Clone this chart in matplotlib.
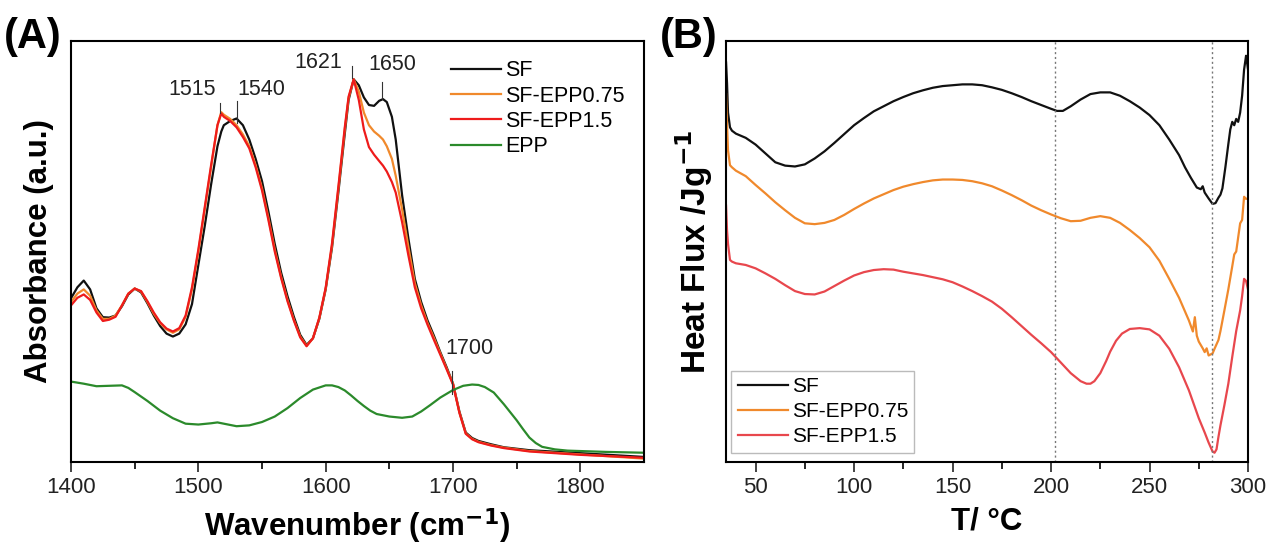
import numpy as np
import matplotlib.pyplot as plt

plt.rcParams["font.family"] = ["Liberation Sans", "DejaVu Sans"]

# ---- (A) FTIR ----
wn = [1400, 1405, 1410, 1415, 1420, 1425, 1430, 1435, 1440, 1445, 1450, 1455,
      1460, 1465, 1470, 1475, 1480, 1485, 1490, 1495, 1500, 1505, 1510, 1515,
      1518, 1520, 1525, 1530, 1535, 1540, 1545, 1550, 1555, 1560, 1565, 1570,
      1575, 1580, 1585, 1590, 1595, 1600, 1605, 1610, 1615, 1618, 1622, 1626,
      1630, 1634, 1638, 1642, 1645, 1648, 1652, 1655, 1660, 1665, 1670, 1675,
      1680, 1685, 1690, 1695, 1700, 1705, 1710, 1715, 1720, 1730, 1740, 1760,
      1800, 1850]
sf_a = [0.389, 0.415, 0.431, 0.410, 0.365, 0.344, 0.343, 0.348, 0.370, 0.398,
        0.412, 0.403, 0.377, 0.348, 0.323, 0.305, 0.298, 0.305, 0.327, 0.375,
        0.468, 0.560, 0.659, 0.750, 0.785, 0.800, 0.810, 0.816, 0.800, 0.766,
        0.720, 0.667, 0.595, 0.518, 0.450, 0.394, 0.345, 0.302, 0.278, 0.294,
        0.340, 0.410, 0.510, 0.642, 0.780, 0.860, 0.909, 0.895, 0.866, 0.848,
        0.846, 0.858, 0.862, 0.855, 0.820, 0.766, 0.634, 0.530, 0.435, 0.380,
        0.336, 0.300, 0.261, 0.225, 0.186, 0.120, 0.070, 0.057, 0.050, 0.042,
        0.035, 0.028, 0.021, 0.012]
epp075_a = [0.380, 0.400, 0.410, 0.395, 0.360, 0.340, 0.340, 0.348, 0.372, 0.400,
            0.412, 0.405, 0.380, 0.352, 0.330, 0.315, 0.307, 0.315, 0.345, 0.410,
            0.500, 0.600, 0.700, 0.800, 0.831, 0.825, 0.815, 0.800, 0.778, 0.750,
            0.705, 0.650, 0.580, 0.505, 0.440, 0.385, 0.338, 0.298, 0.276, 0.294,
            0.342, 0.412, 0.515, 0.650, 0.790, 0.865, 0.909, 0.880, 0.830, 0.800,
            0.785, 0.775, 0.766, 0.750, 0.720, 0.680, 0.600, 0.510, 0.425, 0.372,
            0.330, 0.295, 0.258, 0.222, 0.186, 0.118, 0.068, 0.055, 0.048, 0.040,
            0.034, 0.026, 0.018, 0.008]
epp15_a = [0.372, 0.390, 0.398, 0.385, 0.355, 0.335, 0.338, 0.345, 0.372, 0.400,
           0.412, 0.406, 0.382, 0.355, 0.332, 0.317, 0.310, 0.318, 0.348, 0.415,
           0.505, 0.605, 0.705, 0.800, 0.828, 0.820, 0.810, 0.795, 0.772, 0.745,
           0.700, 0.645, 0.575, 0.500, 0.437, 0.382, 0.336, 0.296, 0.275, 0.294,
           0.343, 0.414, 0.520, 0.655, 0.795, 0.868, 0.909, 0.860, 0.790, 0.748,
           0.730, 0.715, 0.704, 0.690, 0.665, 0.640, 0.570, 0.490, 0.415, 0.365,
           0.326, 0.290, 0.255, 0.220, 0.184, 0.117, 0.067, 0.054, 0.047, 0.039,
           0.033, 0.025, 0.017, 0.010]
wn_epp = [1400, 1410, 1420, 1430, 1440, 1445, 1450, 1460, 1470, 1480, 1490, 1500,
          1510, 1515, 1520, 1530, 1540, 1550, 1560, 1570, 1580, 1590, 1600, 1605,
          1610, 1615, 1620, 1625, 1630, 1635, 1640, 1650, 1660, 1668, 1675, 1682,
          1690, 1700, 1708, 1715, 1720, 1725, 1732, 1740, 1745, 1750, 1755, 1760,
          1765, 1770, 1780, 1790, 1820, 1850]
epp_a = [0.191, 0.186, 0.180, 0.181, 0.182, 0.176, 0.166, 0.145, 0.122, 0.104,
         0.091, 0.089, 0.092, 0.094, 0.091, 0.085, 0.087, 0.095, 0.108, 0.128,
         0.152, 0.172, 0.182, 0.182, 0.178, 0.170, 0.158, 0.145, 0.133, 0.122,
         0.114, 0.108, 0.105, 0.108, 0.120, 0.135, 0.153, 0.171, 0.181, 0.184,
         0.183, 0.178, 0.165, 0.137, 0.118, 0.099, 0.078, 0.058, 0.045, 0.036,
         0.030, 0.027, 0.024, 0.022]

# peak labels
peak_labels = ["1515", "1540", "1621", "1650", "1700"]
peak_line_x = [1517, 1530.4, 1621, 1644, 1699]
peak_line_y0 = [0.829, 0.805, 0.911, 0.862, 0.162]
peak_line_y1 = [0.853, 0.857, 0.940, 0.902, 0.215]
peak_text_x = [1495.4, 1549.2, 1594, 1652, 1712.6]
peak_text_y = [0.884, 0.884, 0.949, 0.944, 0.269]

# ---- (B) DSC ----
t_sf = [35, 35.5, 36, 37, 38, 40, 45, 50, 55, 60, 65, 70, 75, 80, 85, 90, 95,
        100, 105, 110, 115, 120, 125, 130, 135, 140, 145, 150, 155, 160, 165,
        170, 175, 180, 185, 190, 195, 200, 203, 206, 210, 215, 220, 225, 230,
        235, 240, 245, 250, 255, 260, 265, 268, 271, 274, 276, 277, 278, 280,
        282, 283.5, 285, 286, 287, 288.5, 290, 291, 292, 293, 294, 295, 296,
        297, 298, 299, 299.5, 300]
sf_b = [0.949, 0.900, 0.830, 0.795, 0.787, 0.780, 0.770, 0.754, 0.733, 0.712,
        0.704, 0.702, 0.707, 0.721, 0.738, 0.758, 0.779, 0.800, 0.817, 0.833,
        0.845, 0.857, 0.867, 0.876, 0.883, 0.889, 0.893, 0.895, 0.897, 0.897,
        0.895, 0.890, 0.884, 0.876, 0.867, 0.857, 0.848, 0.839, 0.834, 0.834,
        0.845, 0.861, 0.874, 0.878, 0.878, 0.870, 0.857, 0.842, 0.824, 0.800,
        0.766, 0.729, 0.700, 0.675, 0.652, 0.648, 0.655, 0.640, 0.626, 0.613,
        0.615, 0.628, 0.635, 0.650, 0.700, 0.755, 0.790, 0.808, 0.800, 0.815,
        0.808, 0.830, 0.870, 0.932, 0.965, 0.950, 0.932]
t_075 = [35, 35.5, 36, 37, 38, 40, 45, 50, 55, 60, 65, 70, 75, 80, 85, 90, 95,
         100, 105, 110, 115, 120, 125, 130, 135, 140, 145, 150, 155, 160, 165,
         170, 175, 180, 185, 190, 195, 200, 205, 210, 215, 220, 225, 230, 235,
         240, 245, 250, 255, 260, 265, 270, 272, 273, 274, 275, 277, 278, 279,
         280, 282, 283, 285, 286, 288, 290, 292, 293, 294, 296, 297, 298, 299, 300]
epp075_b = [0.874, 0.800, 0.740, 0.705, 0.700, 0.692, 0.679, 0.658, 0.638, 0.617,
            0.598, 0.580, 0.567, 0.565, 0.568, 0.575, 0.587, 0.601, 0.614, 0.626,
            0.636, 0.646, 0.654, 0.660, 0.665, 0.669, 0.671, 0.671, 0.670, 0.667,
            0.662, 0.655, 0.645, 0.634, 0.622, 0.609, 0.598, 0.588, 0.579, 0.572,
            0.573, 0.580, 0.584, 0.580, 0.568, 0.551, 0.532, 0.510, 0.478, 0.435,
            0.390, 0.336, 0.310, 0.344, 0.300, 0.286, 0.270, 0.261, 0.270, 0.253,
            0.258, 0.269, 0.290, 0.311, 0.360, 0.410, 0.465, 0.493, 0.500, 0.567,
            0.575, 0.630, 0.625, 0.626]
t_15 = [35, 35.5, 36, 37, 38, 40, 45, 50, 55, 60, 65, 70, 75, 80, 85, 90, 95,
        100, 105, 110, 115, 120, 125, 130, 135, 140, 145, 150, 155, 160, 165,
        170, 175, 180, 185, 190, 195, 200, 205, 210, 215, 218, 220, 222, 225,
        228, 230, 233, 236, 240, 245, 250, 255, 260, 265, 270, 275, 278, 280,
        282, 283, 284, 285, 286, 288, 290, 292, 294, 296, 297, 298, 299, 300]
epp15_b = [0.609, 0.550, 0.518, 0.480, 0.476, 0.472, 0.468, 0.460, 0.448, 0.435,
           0.420, 0.406, 0.399, 0.398, 0.405, 0.418, 0.431, 0.443, 0.451, 0.456,
           0.458, 0.457, 0.452, 0.448, 0.444, 0.439, 0.434, 0.427, 0.417, 0.406,
           0.394, 0.381, 0.364, 0.344, 0.323, 0.302, 0.282, 0.261, 0.236, 0.211,
           0.192, 0.186, 0.186, 0.192, 0.211, 0.240, 0.262, 0.288, 0.305, 0.316,
           0.318, 0.315, 0.300, 0.269, 0.225, 0.170, 0.104, 0.070, 0.046, 0.025,
           0.022, 0.030, 0.060, 0.087, 0.135, 0.186, 0.250, 0.311, 0.360, 0.394,
           0.435, 0.430, 0.410]
guide_t = [202, 281.5]

black = "#111111"
orange = "#f0892c"
red_a = "#ee1b1b"
green = "#2b8a2b"
red_b = "#e8474d"

fig = plt.figure(figsize=(12.66, 5.47), dpi=100)
ax1 = fig.add_axes([0.0561, 0.1554, 0.4526, 0.7696])
ax2 = fig.add_axes([0.5735, 0.1554, 0.4123, 0.7696])

ax1.plot(wn, sf_a, color=black, lw=1.6, label="SF")
ax1.plot(wn, epp075_a, color=orange, lw=1.6, label="SF-EPP0.75")
ax1.plot(wn, epp15_a, color=red_a, lw=1.6, label="SF-EPP1.5")
ax1.plot(wn_epp, epp_a, color=green, lw=1.6, label="EPP")
for lab, lx, y0, y1, tx, ty in zip(peak_labels, peak_line_x, peak_line_y0,
                                   peak_line_y1, peak_text_x, peak_text_y):
    ax1.plot([lx, lx], [y0, y1], color="#333333", lw=0.8)
    ax1.text(tx, ty, lab, fontsize=15.5, ha="center", va="center", color="#222222")
ax1.set_xlim(1400, 1850)
ax1.set_ylim(0, 1)
ax1.set_xticks([1400, 1500, 1600, 1700, 1800])
ax1.set_xticks(np.arange(1450, 1850, 100), minor=True)
ax1.set_yticks([])
ax1.set_xlabel("Wavenumber (cm$^{\\mathbf{-1}}$)", fontsize=22.5, fontweight="bold", labelpad=6)
ax1.set_ylabel("Absorbance (a.u.)", fontsize=22.5, fontweight="bold", labelpad=12)
ax1.legend(loc="upper right", frameon=False, fontsize=15.5, handlelength=2.3,
           handletextpad=0.2, labelspacing=0.2, bbox_to_anchor=(1.0, 1.0))

ax2.plot(t_sf, sf_b, color=black, lw=1.6, label="SF")
ax2.plot(t_075, epp075_b, color=orange, lw=1.6, label="SF-EPP0.75")
ax2.plot(t_15, epp15_b, color=red_b, lw=1.6, label="SF-EPP1.5")
for g in guide_t:
    ax2.axvline(g, color="#777777", lw=1.0, ls=(0, (1.5, 2)))
ax2.set_xlim(35, 300)
ax2.set_ylim(0, 1)
ax2.set_xticks([50, 100, 150, 200, 250, 300])
ax2.set_xticks([75, 125, 175, 225, 275], minor=True)
ax2.set_yticks([])
ax2.set_xlabel("T/ °C", fontsize=22.5, fontweight="bold", labelpad=6)
ax2.set_ylabel("Heat Flux /Jg$^{\\mathbf{-1}}$", fontsize=24, fontweight="bold", labelpad=8)
leg = ax2.legend(loc="lower left", fontsize=15, handlelength=2.4, handletextpad=0.2,
                 labelspacing=0.3, fancybox=False, edgecolor="#bbbbbb", framealpha=1,
                 borderpad=0.3, borderaxespad=0.25, bbox_to_anchor=(0.0, 0.01))
leg.get_frame().set_linewidth(1.0)

for ax in (ax1, ax2):
    for s in ax.spines.values():
        s.set_linewidth(1.5)
    ax.tick_params(axis="x", which="major", direction="out", length=7, width=1.2,
                   labelsize=16, pad=4, colors="#222222")
    ax.tick_params(axis="x", which="minor", direction="out", length=5, width=1.2)

fig.text(0.003, 0.933, "(A)", fontsize=30, fontweight="bold", va="center")
fig.text(0.521, 0.933, "(B)", fontsize=30, fontweight="bold", va="center")

fig.savefig("out.png", dpi=100)
